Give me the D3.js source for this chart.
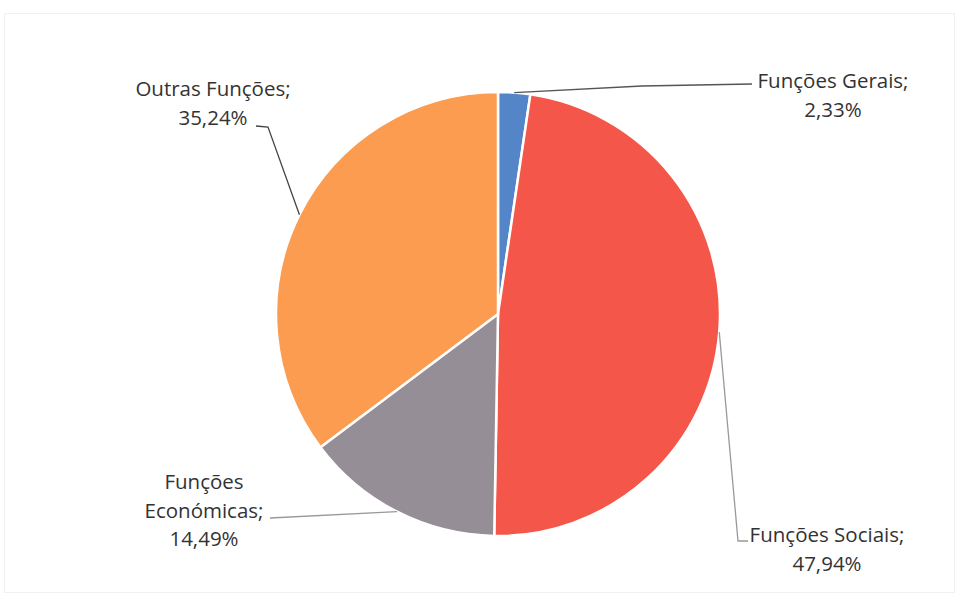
<!DOCTYPE html>
<html>
<head>
<meta charset="utf-8">
<script src="https://cdn.jsdelivr.net/npm/d3@7"></script>
<style>
html,body{margin:0;padding:0;background:#fff;}
svg{display:block;}
text{font-family:"Open Sans","Noto Sans",sans-serif;fill:#333;}
</style>
</head>
<body>
<svg id="chart" width="965" height="607"></svg>
<script>
const categories = ["Funções Gerais", "Funções Sociais", "Funções Económicas", "Outras Funções"];
const values = [2.33, 47.94, 14.49, 35.24];
const valueLabels = ["2,33%", "47,94%", "14,49%", "35,24%"];
const colors = ["#5585c9", "#f4564a", "#958e96", "#fb9c50"];
// label lines (text split as in the picture)
const labelLines = [
  ["Funções Gerais;", "2,33%"],
  ["Funções Sociais;", "47,94%"],
  ["Funções", "Económicas;", "14,49%"],
  ["Outras Funções;", "35,24%"]
];

const svg = d3.select("#chart");
const cx = 498, cy = 314, R = 222;

// faint chart frame
svg.append("rect").attr("x", 4.5).attr("y", 13.5).attr("width", 950).attr("height", 579)
  .attr("fill", "none").attr("stroke", "#f0f0f0").attr("stroke-width", 1);

const pie = d3.pie().sort(null).value(d => d)(values);
const arc = d3.arc().innerRadius(0).outerRadius(R);
const g = svg.append("g").attr("transform", `translate(${cx},${cy})`);
g.selectAll("path").data(pie).join("path")
  .attr("d", arc)
  .attr("fill", (d, i) => colors[i])
  .attr("stroke", "#fff").attr("stroke-width", 2.5).attr("stroke-linejoin", "round");

const labelPos = [
  {x: 833, y: 80},
  {x: 827, y: 534},
  {x: 204, y: 481},
  {x: 213, y: 88}
];
const lh = 28.5;
labelLines.forEach((lines, i) => {
  const t = svg.append("text").attr("text-anchor", "middle").attr("font-size", 20.5);
  lines.forEach((s, j) => {
    t.append("tspan").attr("x", labelPos[i].x).attr("y", labelPos[i].y + j * lh)
      .attr("dominant-baseline", "central").text(s);
  });
});

function edgePoint(d, rr) {
  const a = (d.startAngle + d.endAngle) / 2;
  return [cx + Math.sin(a) * rr, cy - Math.cos(a) * rr];
}
const leaders = [
  {i: 0, pts: [[642, 86], [752, 84]], color: "#555"},
  {i: 1, pts: [[738, 541], [748, 541]], color: "#999"},
  {i: 2, pts: [[270, 518]], color: "#999"},
  {i: 3, pts: [[268, 127], [256, 126]], color: "#444"}
];
leaders.forEach(l => {
  const p0 = edgePoint(pie[l.i], R);
  svg.append("path")
    .attr("d", d3.line()([p0, ...l.pts]))
    .attr("fill", "none").attr("stroke", l.color).attr("stroke-width", 1.3);
});
</script>
</body>
</html>
